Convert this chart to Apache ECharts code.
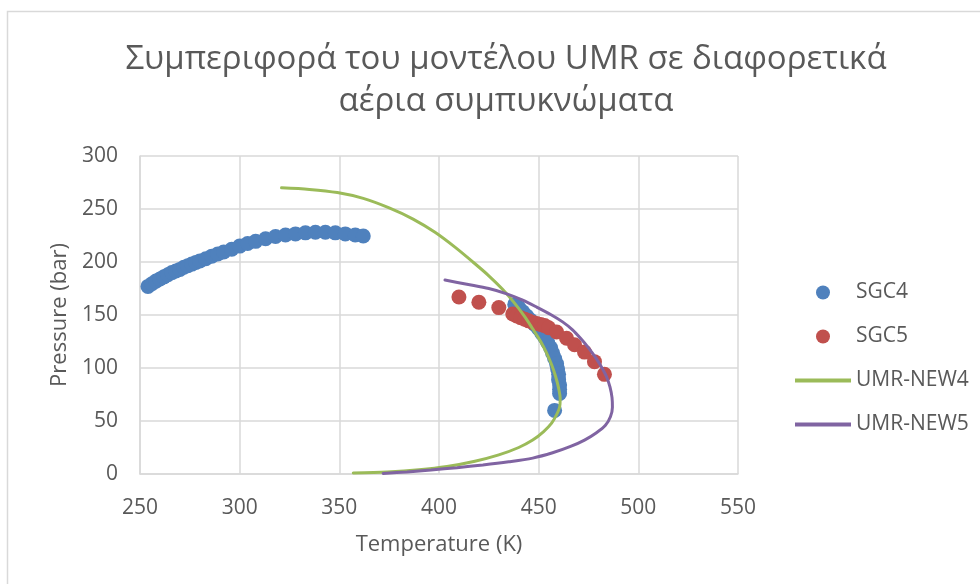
<!DOCTYPE html>
<html>
<head>
<meta charset="utf-8">
<script src="https://cdn.jsdelivr.net/npm/echarts@6/dist/echarts.min.js"></script>
<style>
  html, body { margin: 0; padding: 0; background: #ffffff; }
  #chart { width: 980px; height: 584px; }
</style>
</head>
<body>
<div id="chart"></div>
<script>
// Experimental dew/bubble points for two gas condensates (T in K, P in bar)
const sgc4T = [254, 256, 258, 260, 262, 264, 266, 268, 270, 272, 274, 276, 278, 280, 283, 286, 289, 292, 296, 300, 304, 308, 313, 318, 323, 328, 333, 338, 343, 348, 353, 358, 362,
               438, 440, 442, 444, 446, 448, 450, 451.5, 453, 454.5, 456, 457, 458, 459, 459.5, 460, 460, 460.5, 460.5, 460.5, 458];
const sgc4P = [177, 179.5, 182, 184, 186, 188, 190, 191.5, 193, 195, 196.5, 198, 199.5, 201, 203, 205.5, 207.5, 209.5, 212, 215, 217.5, 219.5, 222, 224, 225.5, 226.5, 227.5, 228, 228, 227.5, 226.5, 225.5, 224.5,
               160, 157, 153, 149, 145, 141, 137, 133, 129, 124, 119, 114, 109, 104, 99, 94, 89, 84, 80, 76, 60];

const sgc5T = [410, 420, 430, 437, 439, 441, 443, 445, 447, 449, 451, 453, 455, 459, 464, 468, 473, 478, 483];
const sgc5P = [167, 162, 157, 151, 149, 147.5, 146, 144.5, 143, 142, 141, 140, 138, 134, 128, 122, 115, 106, 94];

// Phase envelopes predicted by the UMR model
const umr4T = [321, 335, 349, 362, 375, 387, 398, 408, 417, 425, 432, 438, 443, 447, 451, 454, 456.5, 458.5, 460, 460.8, 460.5, 459, 456.5, 452.5, 447, 440, 430, 418, 404, 390, 374, 357];
const umr4P = [270, 268.5, 265.5, 260, 251, 240.5, 228, 214, 200, 187, 174, 161, 148.5, 137, 125, 114, 103, 92, 81, 71, 63, 56, 48, 40, 32, 25, 18, 12, 7, 4, 2, 1];

const umr5T = [403, 414, 425, 434, 442, 449, 456, 462, 467, 471, 475, 478.5, 481.5, 484, 485.8, 486.8, 487, 486, 483.5, 479, 473, 466, 457, 447, 435, 422, 409, 396, 384, 372];
const umr5P = [183, 179, 175, 170, 164, 157.5, 150.5, 143.5, 136, 128, 119, 110, 101, 92, 82, 72, 63, 54, 46, 39, 32, 26, 20, 15, 11.5, 8.5, 6, 3.8, 2, 0.5];

const xTicks = { min: 250, max: 550, step: 50 };
const yTicks = { min: 0, max: 300, step: 50 };

const pairs = (xs, ys) => xs.map((x, i) => [x, ys[i]]);

const textColor = '#595959';
const gridColor = '#d9d9d9';
const font = 'Open Sans';
const lineIcon = 'path://M0,0 L53,0 L53,4 L0,4 Z';

const chart = echarts.init(document.getElementById('chart'), null, { renderer: 'canvas' });

chart.setOption({
  backgroundColor: '#ffffff',
  animation: false,
  graphic: [{
    type: 'rect',
    shape: { x: 7.5, y: 11.5, width: 1100, height: 700 },
    style: { fill: 'none', stroke: gridColor, lineWidth: 1.5 },
    silent: true
  }],
  title: {
    text: 'Συμπεριφορά του μοντέλου UMR σε διαφορετικά\nαέρια συμπυκνώματα',
    left: 501,
    top: 34,
    textAlign: 'center',
    textStyle: {
      fontFamily: font,
      fontSize: 33,
      fontWeight: 'normal',
      color: textColor,
      lineHeight: 42
    }
  },
  legend: {
    orient: 'vertical',
    left: 790,
    top: 277,
    itemWidth: 56,
    itemHeight: 14,
    itemGap: 23,
    textStyle: { fontFamily: font, fontSize: 21, color: textColor },
    data: [
      { name: 'SGC4', icon: 'circle' },
      { name: 'SGC5', icon: 'circle' },
      { name: 'UMR-NEW4', icon: lineIcon },
      { name: 'UMR-NEW5', icon: lineIcon }
    ]
  },
  grid: { left: 140, right: 242, top: 156, bottom: 110 },
  xAxis: {
    type: 'value',
    min: xTicks.min, max: xTicks.max, interval: xTicks.step,
    name: 'Temperature (K)',
    nameLocation: 'middle',
    nameGap: 60,
    nameTextStyle: { fontFamily: font, fontSize: 22, color: textColor },
    axisLine: { show: true, lineStyle: { color: gridColor, width: 1.5 } },
    axisTick: { show: false },
    axisLabel: { fontFamily: font, fontSize: 21, color: textColor, margin: 24 },
    splitLine: { show: true, lineStyle: { color: gridColor, width: 1.5 } }
  },
  yAxis: {
    type: 'value',
    min: yTicks.min, max: yTicks.max, interval: yTicks.step,
    name: 'Pressure (bar)',
    nameLocation: 'middle',
    nameGap: 66,
    nameRotate: 90,
    nameTextStyle: { fontFamily: font, fontSize: 22, color: textColor },
    axisLine: { show: true, lineStyle: { color: gridColor, width: 1.5 } },
    axisTick: { show: false },
    axisLabel: { fontFamily: font, fontSize: 21, color: textColor, margin: 22 },
    splitLine: { show: true, lineStyle: { color: gridColor, width: 1.5 } }
  },
  series: [
    {
      name: 'SGC4', type: 'scatter', symbol: 'circle', symbolSize: 15,
      itemStyle: { color: '#4f81bd', opacity: 1 }, z: 2,
      data: pairs(sgc4T, sgc4P)
    },
    {
      name: 'SGC5', type: 'scatter', symbol: 'circle', symbolSize: 15,
      itemStyle: { color: '#c0504d', opacity: 1 }, z: 2,
      data: pairs(sgc5T, sgc5P)
    },
    {
      name: 'UMR-NEW4', type: 'line', showSymbol: false, smooth: 0.3,
      itemStyle: { color: '#9bbb59' },
      lineStyle: { color: '#9bbb59', width: 3, cap: 'round' }, z: 3,
      data: pairs(umr4T, umr4P)
    },
    {
      name: 'UMR-NEW5', type: 'line', showSymbol: false, smooth: 0.3,
      itemStyle: { color: '#8064a2' },
      lineStyle: { color: '#8064a2', width: 3, cap: 'round' }, z: 3,
      data: pairs(umr5T, umr5P)
    }
  ]
});
</script>
</body>
</html>
